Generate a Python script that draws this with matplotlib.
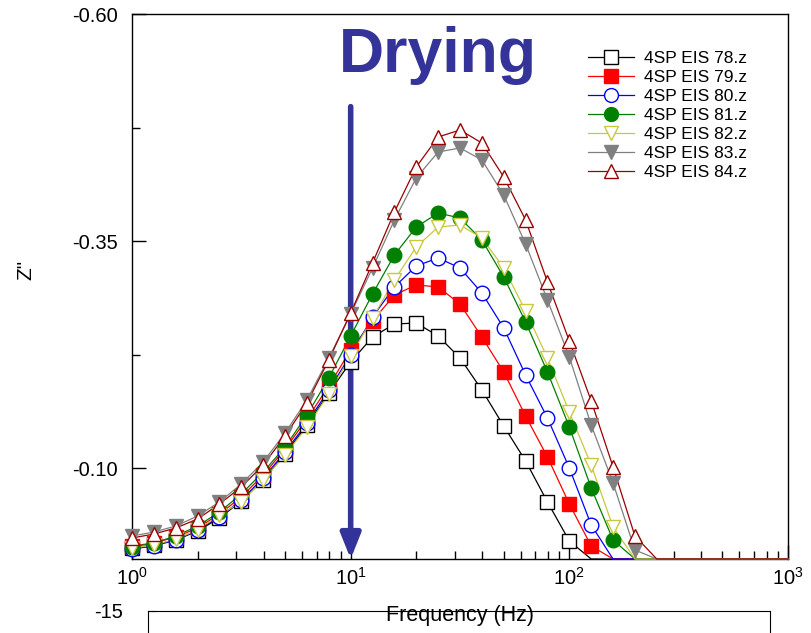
import matplotlib.pyplot as plt
from matplotlib.lines import Line2D
from matplotlib.ticker import LogLocator, NullFormatter

plt.rcParams["font.family"] = ["Liberation Sans", "DejaVu Sans"]
plt.rcParams["mathtext.fontset"] = "custom"
plt.rcParams["mathtext.rm"] = "Liberation Sans"
plt.rcParams["mathtext.it"] = "Liberation Sans:italic"

# частоты измерения, Гц
freq = [1.0, 1.259, 1.585, 1.995, 2.512, 3.162, 3.981, 5.012, 6.310, 7.943,
        10.0, 12.59, 15.85, 19.95, 25.12, 31.62, 39.81, 50.12, 63.10, 79.43,
        100.0, 125.9, 158.5, 199.5, 251.2]

labels = ["4SP EIS 78.z", "4SP EIS 79.z", "4SP EIS 80.z", "4SP EIS 81.z",
          "4SP EIS 82.z", "4SP EIS 83.z", "4SP EIS 84.z"]

# Z'' (только видимые точки, дальше кривые уходят за ось)
z78 = [-0.0121, -0.0154, -0.0209, -0.0308, -0.0451, -0.0639, -0.0870, -0.1156,
       -0.1475, -0.1828, -0.2169, -0.2444, -0.2587, -0.2598, -0.2455, -0.2213,
       -0.1861, -0.1464, -0.1079, -0.0628, -0.0198]
z79 = [-0.0143, -0.0176, -0.0242, -0.0341, -0.0495, -0.0683, -0.0925, -0.1211,
       -0.1541, -0.1905, -0.2301, -0.2620, -0.2907, -0.3017, -0.2995, -0.2807,
       -0.2444, -0.2059, -0.1574, -0.1123, -0.0606, -0.0143]
z80 = [-0.0110, -0.0143, -0.0209, -0.0319, -0.0462, -0.0650, -0.0892, -0.1178,
       -0.1497, -0.1861, -0.2246, -0.2664, -0.2995, -0.3226, -0.3314, -0.3204,
       -0.2929, -0.2543, -0.2026, -0.1552, -0.1002, -0.0374]
z81 = [-0.0132, -0.0176, -0.0253, -0.0363, -0.0517, -0.0716, -0.0958, -0.1233,
       -0.1585, -0.1993, -0.2455, -0.2918, -0.3347, -0.3655, -0.3809, -0.3754,
       -0.3512, -0.3105, -0.2609, -0.2059, -0.1453, -0.0782, -0.0209]
z82 = [-0.0121, -0.0154, -0.0220, -0.0319, -0.0484, -0.0628, -0.0870, -0.1145,
       -0.1453, -0.1817, -0.2235, -0.2653, -0.3072, -0.3435, -0.3655, -0.3677,
       -0.3534, -0.3204, -0.2730, -0.2213, -0.1618, -0.1035, -0.0352]
z83 = [-0.0253, -0.0297, -0.0363, -0.0473, -0.0628, -0.0826, -0.1068, -0.1387,
       -0.1751, -0.2213, -0.2697, -0.3204, -0.3732, -0.4195, -0.4481, -0.4525,
       -0.4393, -0.4007, -0.3468, -0.2851, -0.2224, -0.1475, -0.0837, -0.0099]
z84 = [-0.0231, -0.0275, -0.0341, -0.0440, -0.0606, -0.0793, -0.1035, -0.1354,
       -0.1717, -0.2191, -0.2708, -0.3259, -0.3820, -0.4316, -0.4646, -0.4723,
       -0.4580, -0.4206, -0.3732, -0.3050, -0.2400, -0.1740, -0.1013, -0.0253]

series = [z78, z79, z80, z81, z82, z83, z84]
colors = ["black", "#ff0000", "#0000ff", "#008000", "#c8c83c", "#808080", "#990000"]
markers = ["s", "s", "o", "o", "v", "v", "^"]
filled = [False, True, False, True, False, True, False]

fig = plt.figure(figsize=(8.11, 6.33), dpi=100)
ax = fig.add_axes([132 / 811, 74 / 633, 656 / 811, 545 / 633])

handles = []
for z, c, m, f, lab in zip(series, colors, markers, filled, labels):
    n = len(z)
    face = c if f else "white"
    # линия доходит до оси и идёт по ней до конца
    ax.plot(freq[:n] + [freq[n], 1000], z + [0.0, 0.0], color=c, lw=0.9,
            clip_on=False, zorder=3)
    ax.plot(freq[:n], z, ls="none", marker=m, ms=10.5, mfc=face, mec=c,
            mew=1.0, clip_on=False, zorder=4)
    handles.append(Line2D([], [], color=c, lw=0.9, marker=m, ms=10,
                          mfc=face, mec=c, mew=1.0))

ax.set_xscale("log")
ax.set_xlim(1, 1000)
ax.set_ylim(0, -0.6)

ax.set_xticks([1, 10, 100, 1000])
ax.set_xticklabels([r"$10^{0}$", r"$10^{1}$", r"$10^{2}$", r"$10^{3}$"])
ax.xaxis.set_minor_locator(LogLocator(base=10, subs=range(2, 10)))
ax.xaxis.set_minor_formatter(NullFormatter())
ax.set_yticks([-0.6, -0.35, -0.1])
ax.set_yticklabels(["-0.60", "-0.35", "-0.10"])
ax.set_yticks([-0.475, -0.225], minor=True)

ax.tick_params(which="major", direction="in", length=10, width=1,
               labelsize=14.5, pad=10)
ax.tick_params(which="minor", direction="in", length=6, width=1)
ax.tick_params(axis="x", which="major", pad=6)
for s in ax.spines.values():
    s.set_linewidth(1)

ax.set_xlabel("Frequency (Hz)", fontsize=15.5)
ax.xaxis.set_label_coords(0.5, -0.103)
ax.xaxis.label.set_va("center")
ax.set_ylabel('Z"', fontsize=15)
ax.yaxis.set_label_coords(-0.148, 0.53)

ax.legend(handles, labels, loc="upper left",
          bbox_to_anchor=(588 / 811, (633 - 51) / 633),
          bbox_transform=fig.transFigure, frameon=False, fontsize=12.5,
          handlelength=2.65, handletextpad=0.6, labelspacing=0.22,
          borderpad=0, borderaxespad=0, numpoints=1)

# стрелка "Drying"
ax.annotate("", xy=(10, 0.0), xytext=(10, -0.498),
            arrowprops=dict(arrowstyle="-|>,head_length=0.75,head_width=0.3",
                            color="#333399", lw=4, shrinkA=0, shrinkB=0,
                            mutation_scale=20))
fig.text(438 / 811, (633 - 72) / 633, "Drying", ha="center", va="baseline",
         fontsize=45, fontweight="bold", color="#333399")

# нижняя (обрезанная) панель
ax2 = fig.add_axes([148 / 811, -0.2, 622 / 811, 0.2 + 22 / 633])
ax2.patch.set_visible(False)
ax2.set_ylim(-40, -15)
ax2.set_xticks([])
ax2.set_yticks([-15])
ax2.set_yticklabels(["-15"])
ax2.tick_params(axis="y", direction="in", length=6, labelsize=14.5, pad=18)
ax2.spines["bottom"].set_visible(False)

fig.savefig("out.png", dpi=100)
